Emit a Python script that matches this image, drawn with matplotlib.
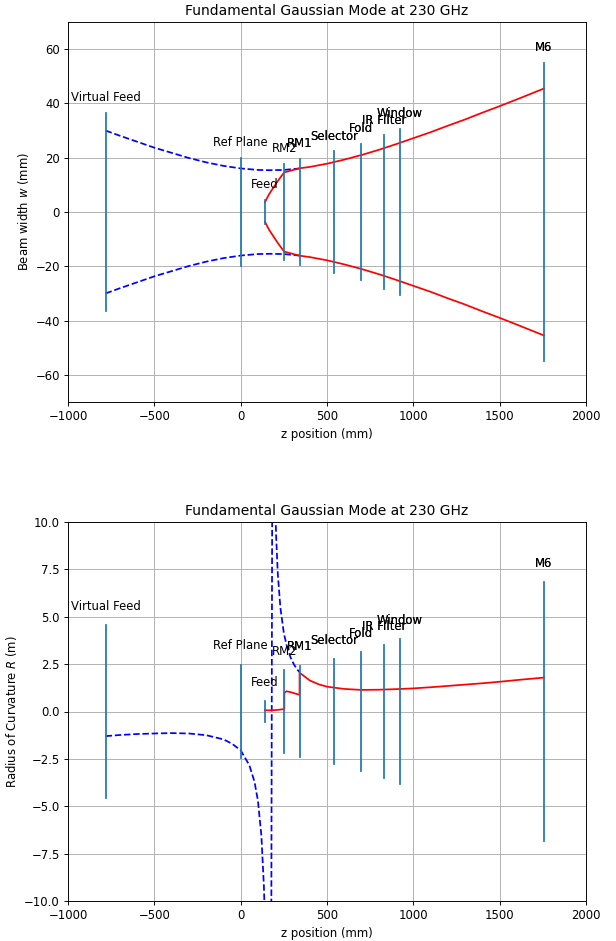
#!/usr/bin/env python3
"""
Fundamental Gaussian beam through the optics chain, width and curvature.
"""

import matplotlib
matplotlib.use("Agg")
import matplotlib.pyplot as plt

### Optical elements ###
names = ["Virtual Feed", "Ref Plane", "Feed", "RM2", "RM1",
         "Selector", "Fold", "IR Filter", "Window", "M6"]
z_elem = [-782, 0, 141, 253, 341, 542, 697, 833, 920, 1757]   # mm
h_elem = [36.4, 19.8, 4.5, 17.6, 19.4, 22.3, 25.2, 28.2, 30.7, 54.8]  # mm
# these labels look darker in the original (drawn twice)
doubled = ["RM1", "Selector", "Fold", "IR Filter", "Window", "M6"]

### Beam width (mm) ###
z_virt = [-782, -700, -600, -500, -400, -300, -200, -100, 0, 100, 170, 250, 341]
w_virt = [30.0, 28.1, 25.9, 23.7, 21.8, 19.9, 18.3, 17.0, 16.05, 15.5, 15.4, 15.5, 16.05]

z_beam = [141, 150, 165, 190, 215, 240, 253, 300, 341, 400, 500, 600, 700,
          800, 900, 1000, 1100, 1200, 1300, 1400, 1500, 1600, 1757]
w_beam = [3.6, 4.8, 6.6, 9.0, 11.4, 13.6, 14.6, 15.4, 16.1, 16.6, 17.8, 19.3, 21.0,
          22.9, 25.0, 27.2, 29.4, 31.8, 34.1, 36.6, 39.0, 41.5, 45.5]

### Radius of curvature (m) ###
z_virt_R = [-782, -700, -600, -500, -400, -300, -200, -100, -50, 0, 50, 80, 100,
            120, 135, 145, 155, 165, 185, 195, 205, 215, 230, 250, 270, 290,
            310, 330, 341]
R_virt = [-1.30, -1.24, -1.19, -1.16, -1.14, -1.16, -1.25, -1.47, -1.70, -2.05,
          -2.83, -3.70, -4.71, -6.55, -9.32, -13.0, -21.7, -65.0, 21.7, 13.0,
          9.32, 7.27, 5.48, 4.14, 3.35, 2.83, 2.46, 2.19, 2.08]

z_beam_R = [141, 160, 190, 220, 253, 253, 265, 290, 315, 341, 341, 400, 450, 500,
            600, 700, 800, 900, 1000, 1100, 1200, 1300, 1400, 1500, 1600, 1757]
R_beam = [0.07, 0.06, 0.07, 0.09, 0.13, 0.98, 1.07, 1.02, 0.95, 0.88, 2.05, 1.64,
          1.44, 1.31, 1.19, 1.14, 1.15, 1.18, 1.22, 1.28, 1.35, 1.42, 1.49, 1.57,
          1.66, 1.79]

TITLE = "Fundamental Gaussian Mode at 230 GHz"
DPI = 83.5   # the original looks like a 72 dpi notebook figure, scaled up a bit

fig = plt.figure(figsize=(616 / DPI, 941 / DPI), dpi=DPI)
ax1 = fig.add_axes([68 / 616, 1 - 402 / 941, 518 / 616, 380 / 941])
ax2 = fig.add_axes([68 / 616, 1 - 901 / 941, 518 / 616, 379 / 941])

### Top: beam width ###
ax1.plot(z_virt, w_virt, "b--")
ax1.plot(z_virt, [-w for w in w_virt], "b--")
ax1.plot(z_beam, w_beam, "r-")
ax1.plot(z_beam, [-w for w in w_beam], "r-")
for name, z, h in zip(names, z_elem, h_elem):
    ax1.plot([z, z], [-h, h], color="C0")
    for k in range(2 if name in doubled else 1):
        ax1.text(z, h + 4.4, name, ha="center")
ax1.set_xlim(-1000, 2000)
ax1.set_ylim(-70, 70)
ax1.set_yticks([-60, -40, -20, 0, 20, 40, 60])
ax1.set_xlabel("z position (mm)")
ax1.set_ylabel("Beam width $w$ (mm)")
ax1.set_title(TITLE)
ax1.grid(True)

### Bottom: radius of curvature ###
ax2.plot(z_virt_R, R_virt, "b--")
ax2.plot(z_beam_R, R_beam, "r-")
for name, z, h in zip(names, z_elem, h_elem):
    ax2.plot([z, z], [-h / 8, h / 8], color="C0")
    for k in range(2 if name in doubled else 1):
        ax2.text(z, h / 8 + 0.8, name, ha="center")
ax2.set_xlim(-1000, 2000)
ax2.set_ylim(-10, 10)
ax2.set_xlabel("z position (mm)")
ax2.set_ylabel("Radius of Curvature $R$ (m)")
ax2.set_title(TITLE)
ax2.grid(True)

fig.savefig("out.png", dpi=DPI)
